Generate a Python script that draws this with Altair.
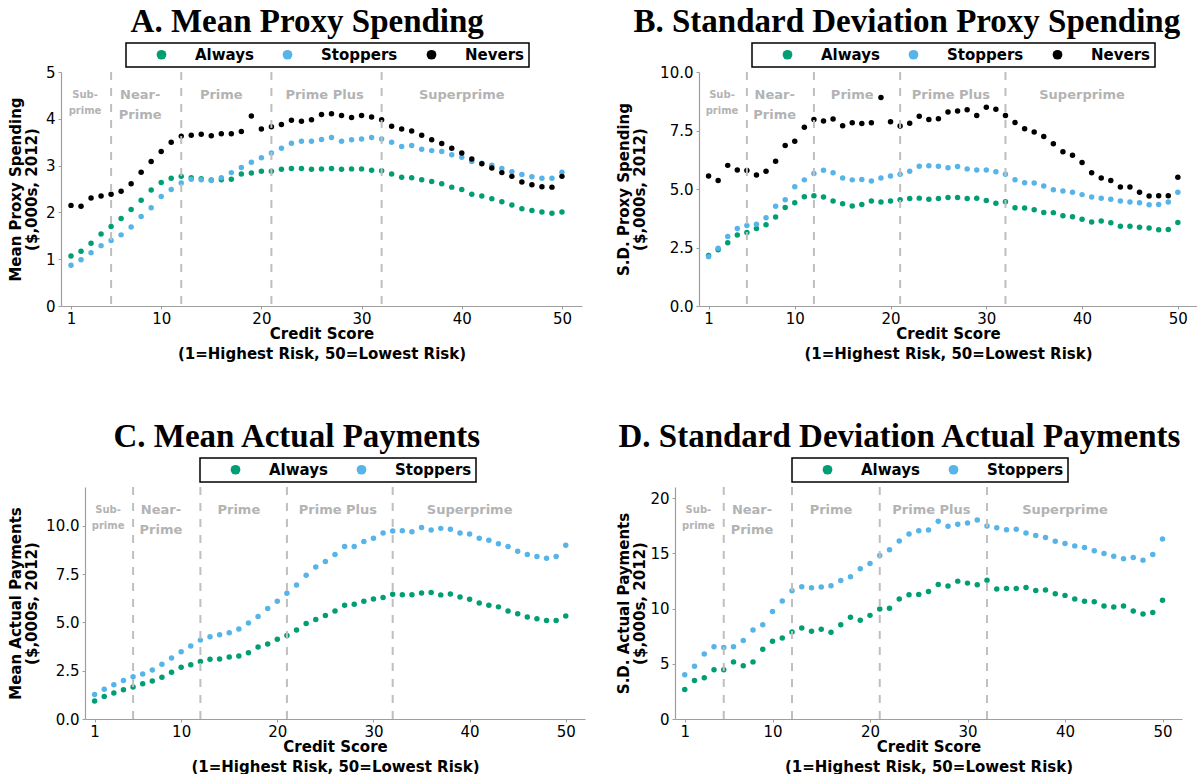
import altair as alt
import pandas as pd

scores = list(range(1, 51))

# Panel A: Mean Proxy Spending
a_always = [1.07, 1.17, 1.34, 1.54, 1.70, 1.87, 2.06, 2.26, 2.48, 2.64,
            2.73, 2.77, 2.74, 2.72, 2.69, 2.70, 2.71, 2.82, 2.84, 2.88,
            2.88, 2.92, 2.94, 2.94, 2.92, 2.93, 2.94, 2.92, 2.93, 2.93,
            2.90, 2.89, 2.82, 2.75, 2.74, 2.70, 2.66, 2.61, 2.54, 2.49,
            2.39, 2.35, 2.29, 2.23, 2.16, 2.08, 2.04, 2.01, 1.98, 2.01]
a_stoppers = [0.87, 0.99, 1.14, 1.29, 1.40, 1.52, 1.69, 1.91, 2.10, 2.34,
              2.49, 2.63, 2.71, 2.70, 2.68, 2.74, 2.85, 2.96, 3.07, 3.17,
              3.27, 3.37, 3.48, 3.52, 3.52, 3.56, 3.60, 3.52, 3.55, 3.57,
              3.60, 3.57, 3.50, 3.41, 3.43, 3.35, 3.32, 3.30, 3.23, 3.18,
              3.09, 3.05, 3.01, 2.94, 2.87, 2.81, 2.76, 2.73, 2.73, 2.86]
a_nevers = [2.15, 2.13, 2.31, 2.35, 2.39, 2.45, 2.61, 2.86, 3.09, 3.30,
            3.50, 3.63, 3.65, 3.67, 3.64, 3.68, 3.68, 3.73, 4.06, 3.78,
            3.83, 3.88, 3.97, 3.95, 3.98, 4.09, 4.11, 4.07, 4.03, 4.07,
            4.04, 3.98, 3.84, 3.78, 3.74, 3.65, 3.55, 3.47, 3.37, 3.27,
            3.14, 3.04, 2.95, 2.85, 2.77, 2.65, 2.59, 2.55, 2.54, 2.77]

# Panel B: S.D. Proxy Spending
b_always = [2.16, 2.40, 2.70, 3.03, 3.14, 3.31, 3.47, 3.80, 4.21, 4.41,
            4.67, 4.71, 4.66, 4.49, 4.37, 4.27, 4.34, 4.49, 4.44, 4.49,
            4.54, 4.59, 4.61, 4.56, 4.59, 4.64, 4.64, 4.59, 4.60, 4.51,
            4.39, 4.46, 4.20, 4.19, 4.11, 4.00, 3.99, 3.86, 3.81, 3.71,
            3.59, 3.63, 3.56, 3.41, 3.41, 3.37, 3.33, 3.26, 3.27, 3.57]
b_stoppers = [2.11, 2.47, 2.97, 3.31, 3.44, 3.49, 3.77, 4.26, 4.54, 5.10,
              5.39, 5.66, 5.80, 5.69, 5.47, 5.39, 5.41, 5.34, 5.47, 5.56,
              5.63, 5.76, 5.97, 5.99, 5.97, 5.91, 5.96, 5.86, 5.81, 5.81,
              5.74, 5.63, 5.40, 5.27, 5.26, 5.13, 4.97, 4.91, 4.86, 4.76,
              4.66, 4.60, 4.56, 4.49, 4.44, 4.41, 4.33, 4.34, 4.44, 4.86]
b_nevers = [5.56, 5.36, 6.01, 5.81, 5.79, 5.60, 5.76, 6.19, 6.86, 7.04,
            7.64, 7.97, 7.91, 7.99, 7.70, 7.83, 7.80, 7.83, 8.91, 7.87,
            7.69, 7.81, 8.11, 7.97, 8.00, 8.29, 8.33, 8.39, 8.14, 8.49,
            8.41, 8.14, 7.84, 7.57, 7.44, 7.24, 6.93, 6.59, 6.44, 6.13,
            5.69, 5.47, 5.36, 5.09, 5.09, 4.86, 4.70, 4.71, 4.71, 5.50]

# Panel C: Mean Actual Payments
c_always = [0.93, 1.17, 1.34, 1.51, 1.65, 1.82, 1.96, 2.16, 2.42, 2.68,
            2.81, 2.97, 3.09, 3.10, 3.21, 3.26, 3.43, 3.72, 3.88, 4.13,
            4.32, 4.60, 4.94, 5.15, 5.35, 5.59, 5.88, 5.93, 6.09, 6.21,
            6.28, 6.45, 6.43, 6.43, 6.52, 6.54, 6.42, 6.47, 6.31, 6.19,
            6.00, 5.88, 5.80, 5.59, 5.44, 5.28, 5.18, 5.09, 5.09, 5.33]
c_stoppers = [1.27, 1.54, 1.77, 1.99, 2.18, 2.33, 2.54, 2.83, 3.16, 3.48,
              3.77, 4.08, 4.25, 4.36, 4.46, 4.65, 4.96, 5.30, 5.71, 6.09,
              6.50, 6.93, 7.44, 7.86, 8.15, 8.51, 8.92, 8.92, 9.18, 9.35,
              9.62, 9.73, 9.74, 9.69, 9.90, 9.78, 9.86, 9.81, 9.62, 9.57,
              9.35, 9.25, 9.07, 8.92, 8.68, 8.51, 8.40, 8.32, 8.40, 8.99]

# Panel D: S.D. Actual Payments
d_always = [2.68, 3.49, 3.73, 4.45, 4.45, 5.17, 4.81, 5.17, 6.32, 7.04,
            7.34, 7.88, 8.24, 7.94, 8.12, 7.85, 8.54, 9.20, 8.93, 9.38,
            9.95, 10.02, 10.86, 11.25, 11.28, 11.55, 12.18, 12.03, 12.48, 12.30,
            12.15, 12.57, 11.76, 11.82, 11.82, 11.91, 11.64, 11.67, 11.34, 11.19,
            10.86, 10.65, 10.62, 10.23, 10.14, 10.23, 9.77, 9.50, 9.65, 10.74]
d_stoppers = [4.00, 4.78, 5.89, 6.53, 6.47, 6.53, 7.10, 8.06, 8.54, 9.74,
              10.68, 11.61, 11.97, 11.88, 11.94, 12.06, 12.54, 12.87, 13.59, 14.08,
              14.80, 15.31, 16.12, 16.75, 17.05, 17.11, 17.89, 17.44, 17.62, 17.74,
              18.02, 17.47, 17.32, 17.14, 17.17, 16.84, 16.60, 16.42, 16.09, 15.88,
              15.67, 15.52, 15.22, 14.98, 14.74, 14.50, 14.62, 14.38, 14.89, 16.30]

groups = ["Always", "Stoppers", "Nevers"]
group_colors = ["#009E73", "#56B4E9", "#000000"]

cuts = [5, 12, 21, 32]
region_labels = ["Near-\nPrime", "Prime", "Prime Plus", "Superprime"]
region_x = [7.9, 16.0, 26.3, 40.0]
sub_label = ["Sub-\nprime"]
sub_x = [2.4]

x_ticks = [1, 10, 20, 30, 40, 50]

SANS = "DejaVu Sans"
SERIF = "Liberation Serif"
GRAY_TXT = "#b3b3b3"


def panel(series, ymax, yticks, yfmt, ytitle, title, leg_x, width, height,
          shift=0, ytitle_pad=6):
    names = groups[:len(series)]
    cols = group_colors[:len(series)]
    rows = []
    for g, vals in zip(names, series):
        for s, v in zip(scores, vals):
            rows.append({"score": s, "value": v, "group": g})
    df = pd.DataFrame(rows)
    xscale = alt.Scale(domain=[0, 52], nice=False, zero=False, range=[-shift, width])
    yscale = alt.Scale(domain=[0, ymax], nice=False)
    xaxis = alt.Axis(values=x_ticks, title=["Credit Score", "(1=Highest Risk, 50=Lowest Risk)"],
                     titleLineHeight=20, labelPadding=2, titlePadding=0, labelFlush=False)
    yaxis = alt.Axis(values=yticks, format=yfmt, title=ytitle, titleLineHeight=16,
                     labelPadding=3, titlePadding=ytitle_pad, offset=shift)
    pts = alt.Chart(df).mark_circle(size=30, opacity=1).encode(
        x=alt.X("score:Q", scale=xscale, axis=xaxis),
        y=alt.Y("value:Q", scale=yscale, axis=yaxis),
        color=alt.Color("group:N", sort=names,
                        scale=alt.Scale(domain=names, range=cols),
                        legend=alt.Legend(orient="none", legendX=leg_x, legendY=-29,
                                          direction="horizontal", title=None,
                                          strokeColor="black",
                                          padding=4, symbolType="circle", symbolSize=95,
                                          symbolOffset=24, symbolStrokeWidth=0,
                                          labelFont=SANS, labelFontSize=15,
                                          labelFontWeight="bold", labelColor="black",
                                          labelOffset=26, columnPadding=2)),
    )
    rules = alt.Chart(pd.DataFrame({"score": cuts})).mark_rule(
        color="#bfbfbf", strokeWidth=2, strokeDash=[8, 8]
    ).encode(x=alt.X("score:Q", scale=xscale))
    lab_df = pd.DataFrame({"score": region_x, "value": [0.9 * ymax] * len(region_x),
                           "label": region_labels})
    labs = alt.Chart(lab_df).mark_text(
        font=SANS, fontSize=13, fontWeight="bold", color=GRAY_TXT,
        lineBreak="\n", lineHeight=20, baseline="middle", align="center"
    ).encode(x=alt.X("score:Q", scale=xscale), y=alt.Y("value:Q", scale=yscale), text="label:N")
    sub_df = pd.DataFrame({"score": sub_x, "value": [0.9 * ymax], "label": sub_label})
    subs = alt.Chart(sub_df).mark_text(
        font=SANS, fontSize=10, fontWeight="bold", color=GRAY_TXT,
        lineBreak="\n", lineHeight=16, baseline="middle", align="center"
    ).encode(x=alt.X("score:Q", scale=xscale), y=alt.Y("value:Q", scale=yscale), text="label:N")
    return alt.layer(pts, rules, labs, subs).properties(
        width=width, height=height,
        title=alt.TitleParams(title, offset=3, frame="bounds"))


pA = panel([a_always, a_stoppers, a_nevers], 5, [0, 1, 2, 3, 4, 5], "d",
           ["Mean Proxy Spending", "($,000s, 2012)"], "A. Mean Proxy Spending", 41, 497, 234,
           shift=24)
pB = panel([b_always, b_stoppers, b_nevers], 10, [0, 2.5, 5, 7.5, 10], ".1f",
           ["S.D. Proxy Spending", "($,000s, 2012)"], "B. Standard Deviation Proxy Spending", 53, 498, 234,
           ytitle_pad=12)
pC = panel([c_always, c_stoppers], 12, [0, 2.5, 5, 7.5, 10], ".1f",
           ["Mean Actual Payments", "($,000s, 2012)"], "C. Mean Actual Payments", 115, 500, 232)
pD = panel([d_always, d_stoppers], 21, [0, 5, 10, 15, 20], "d",
           ["S.D. Actual Payments", "($,000s, 2012)"], "D. Standard Deviation Actual Payments", 117, 507, 232,
           ytitle_pad=2)

chart = alt.concat(pA, pB, pC, pD, columns=2, align="none",
                   spacing={"row": 60, "column": 10}).resolve_scale(
    color="independent", x="independent", y="independent"
).resolve_legend(color="independent").properties(
    padding={"left": 8, "top": 6, "right": 0, "bottom": 0},
    background="white",
).configure_view(stroke=None).configure_axis(
    grid=False, domainColor="#9e9e9e", domainWidth=1.2, tickColor="#9e9e9e", tickSize=3,
    labelFont=SANS, labelFontSize=15, labelColor="black",
    titleFont=SANS, titleFontSize=15, titleFontWeight="bold", titleColor="black",
).configure_title(
    font=SERIF, fontSize=33, fontWeight="bold", anchor="middle", color="black"
).configure_legend(strokeWidth=1.5)

chart.save("out.html", embed_options={"renderer": "svg", "actions": False})
